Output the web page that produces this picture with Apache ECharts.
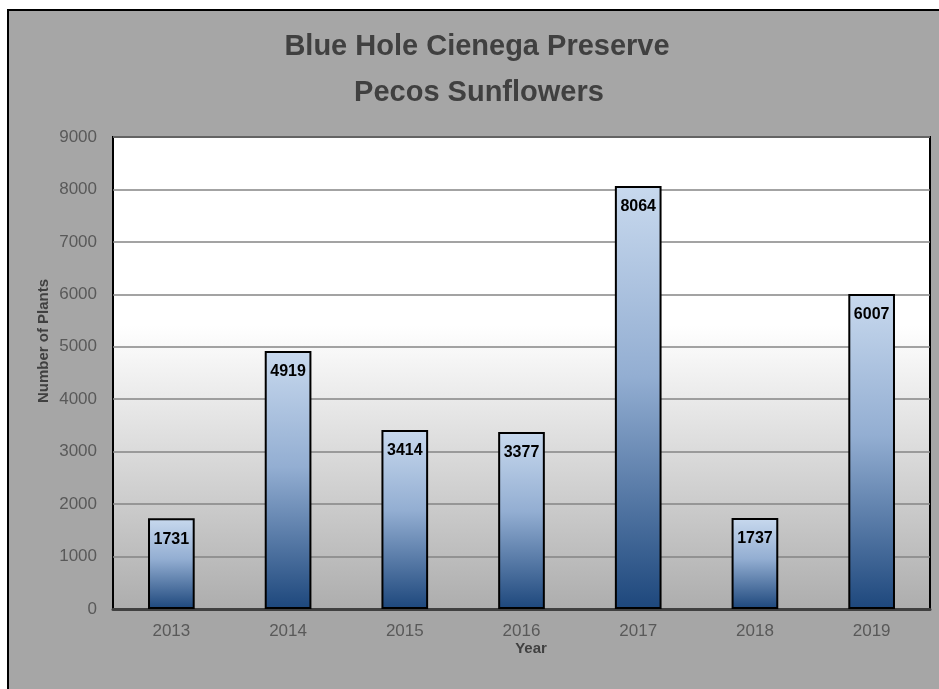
<!DOCTYPE html>
<html>
<head>
<meta charset="utf-8">
<script src="https://cdn.jsdelivr.net/npm/echarts@6/dist/echarts.min.js"></script>
<style>
html,body{margin:0;padding:0;background:#fff;}
#chart{width:939px;height:689px;}
</style>
</head>
<body>
<div id="chart"></div>
<script>
const titleLines = ['Blue Hole Cienega Preserve', 'Pecos Sunflowers'];
const years = ['2013', '2014', '2015', '2016', '2017', '2018', '2019'];
const plants = [1731, 4919, 3414, 3377, 8064, 1737, 6007];
const yAxisTitle = 'Number of Plants';
const xAxisTitle = 'Year';

const chart = echarts.init(document.getElementById('chart'), null, {renderer: 'canvas'});
const FONT = '"Liberation Sans", Arial, sans-serif';

chart.setOption({
  animation: false,
  backgroundColor: '#ffffff',
  graphic: [
    {type: 'rect', z: -10, silent: true,
     shape: {x: 8, y: 10, width: 960, height: 700},
     style: {fill: '#a6a6a6', stroke: '#000', lineWidth: 2}},
    {type: 'text', x: 477, y: 47, z: 10,
     style: {text: titleLines[0], font: 'bold 29px ' + FONT, fill: '#404040', textAlign: 'center', textVerticalAlign: 'middle'}},
    {type: 'text', x: 479, y: 93, z: 10,
     style: {text: titleLines[1], font: 'bold 29px ' + FONT, fill: '#404040', textAlign: 'center', textVerticalAlign: 'middle'}},
    {type: 'text', x: 44, y: 341, rotation: Math.PI / 2, z: 10,
     style: {text: yAxisTitle, font: 'bold 15px ' + FONT, fill: '#404040', textAlign: 'center', textVerticalAlign: 'middle'}},
    {type: 'text', x: 531, y: 649, z: 10,
     style: {text: xAxisTitle, font: 'bold 15px ' + FONT, fill: '#404040', textAlign: 'center', textVerticalAlign: 'middle'}}
  ],
  grid: {
    left: 113, top: 137, right: 9, bottom: 80,
    show: true,
    backgroundColor: new echarts.graphic.LinearGradient(0, 0, 0, 1, [
      {offset: 0, color: '#ffffff'},
      {offset: 0.4, color: '#ffffff'},
      {offset: 1, color: '#adadad'}
    ]),
    borderColor: '#000000',
    borderWidth: 2
  },
  xAxis: {
    type: 'category',
    data: years,
    axisTick: {show: false},
    axisLine: {show: true, lineStyle: {color: '#404040', width: 3}},
    axisLabel: {color: '#595959', fontSize: 17, fontFamily: FONT, margin: 14}
  },
  yAxis: {
    type: 'value',
    min: 0, max: 9000, interval: 1000,
    axisTick: {show: false},
    axisLine: {show: false},
    axisLabel: {color: '#595959', fontSize: 17, fontFamily: FONT, margin: 16,
      formatter: function (v) { return String(v); }},
    splitLine: {lineStyle: {color: '#858585', width: 1.5}}
  },
  series: [{
    type: 'bar',
    data: plants,
    barWidth: '40%',
    itemStyle: {
      color: new echarts.graphic.LinearGradient(0, 0, 0, 1, [
        {offset: 0, color: '#c8d9ee'},
        {offset: 0.45, color: '#93aed2'},
        {offset: 1, color: '#1d477c'}
      ]),
      borderColor: '#000000',
      borderWidth: 2
    },
    label: {
      show: true,
      position: 'insideTop',
      distance: 13,
      color: '#000000',
      fontWeight: 'bold',
      fontSize: 16,
      fontFamily: FONT
    }
  }]
});
</script>
</body>
</html>
